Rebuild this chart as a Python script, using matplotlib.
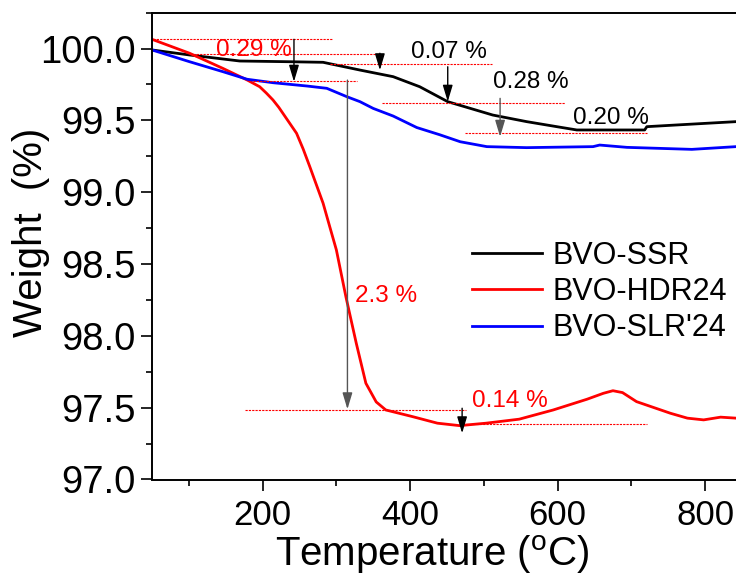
import numpy as np
import matplotlib
matplotlib.use('Agg')
import matplotlib.pyplot as plt
from matplotlib.ticker import MultipleLocator

plt.rc('font', family='Liberation Sans')
plt.rcParams['mathtext.fontset'] = 'custom'
plt.rcParams['mathtext.rm'] = 'Liberation Sans'

# TGA curves
temp_ssr = [50, 101, 169, 237, 282, 332, 377, 413, 451, 512, 558, 600, 626, 718, 721, 762, 842, 850]
wt_ssr = [99.99, 99.955, 99.913, 99.908, 99.904, 99.850, 99.804, 99.734, 99.630, 99.537, 99.491, 99.455,
          99.433, 99.433, 99.456, 99.468, 99.491, 99.492]

temp_hdr = [50, 101, 146, 179, 196, 205, 214, 222, 230, 238, 246, 255, 264, 273, 282, 291, 300, 313, 327,
            340, 354, 367, 403, 437, 467, 503, 548, 594, 640, 662, 675, 688, 707, 753, 776, 798, 821, 842, 850]
wt_hdr = [100.064, 99.967, 99.862, 99.781, 99.734, 99.69, 99.642, 99.59, 99.53, 99.47, 99.41, 99.30,
          99.177, 99.05, 98.923, 98.76, 98.598, 98.27, 97.948, 97.67, 97.54, 97.484, 97.438, 97.392,
          97.375, 97.392, 97.420, 97.484, 97.559, 97.60, 97.618, 97.605, 97.542, 97.461, 97.427, 97.415,
          97.434, 97.427, 97.43]

temp_slr = [50, 101, 146, 179, 214, 260, 287, 314, 332, 350, 377, 409, 440, 468, 504, 558, 648, 657, 694,
            782, 842, 850]
wt_slr = [99.99, 99.908, 99.839, 99.786, 99.762, 99.739, 99.723, 99.665, 99.630, 99.583, 99.530, 99.450,
          99.40, 99.351, 99.317, 99.310, 99.317, 99.328, 99.312, 99.298, 99.317, 99.315]

labels = ['BVO-SSR', 'BVO-HDR24', "BVO-SLR'24"]

# step guides: (x start, x end, level)
guide_lines = [(51, 295, 100.064), (106, 359, 99.962), (187, 328, 99.776), (291, 511, 99.890),
               (362, 610, 99.619), (474, 721, 99.41), (176, 476, 97.484), (476, 721, 97.387)]
# arrows: (x, from, to, colour)
arrows = [(242.5, 100.064, 99.769, 'k'), (359, 99.967, 99.849, 'k'), (451, 99.873, 99.630, 'k'),
          (522, 99.653, 99.386, '#555555'), (315, 99.78, 97.489, '#555555'), (470.5, 97.496, 97.322, 'k')]
# mass-loss labels
notes = [(137, 99.99, '0.29 %', 'red'), (401, 99.978, '0.07 %', 'k'), (512, 99.769, '0.28 %', 'k'),
         (621, 99.514, '0.20 %', 'k'), (325, 98.28, '2.3 %', 'red'), (484, 97.549, '0.14 %', 'red')]

fig = plt.figure(figsize=(7.36, 5.79), dpi=100)
ax = fig.add_axes([152/736, (579-479.5)/579, 590/736, 466.9/579])

ax.plot(temp_ssr, wt_ssr, color='black', lw=2, label=labels[0])
ax.plot(temp_hdr, wt_hdr, color='red', lw=2, label=labels[1])
ax.plot(temp_slr, wt_slr, color='blue', lw=2, label=labels[2])

for x0, x1, lev in guide_lines:
    ax.plot([x0, x1], [lev, lev], color='red', lw=0.8, ls=(0, (2, 1)))
for x, y0, y1, c in arrows:
    ax.annotate('', xy=(x, y1), xytext=(x, y0),
                arrowprops=dict(arrowstyle='-|>,head_length=0.5,head_width=0.15', color=c,
                                lw=1, mutation_scale=20, shrinkA=0, shrinkB=0))
for x, y, s, c in notes:
    ax.text(x, y, s, color=c, fontsize=17.5, ha='left', va='center')

ax.set_xlim(50, 850)
ax.set_ylim(97.0, 100.25)
ax.xaxis.set_major_locator(MultipleLocator(200))
ax.xaxis.set_minor_locator(MultipleLocator(100))
ax.yaxis.set_major_locator(MultipleLocator(0.5))
ax.yaxis.set_minor_locator(MultipleLocator(0.25))
ax.yaxis.set_major_formatter(matplotlib.ticker.FormatStrFormatter('%.1f'))
ax.tick_params(which='major', direction='out', length=8, width=1.2, pad=4)
ax.tick_params(which='minor', direction='out', length=4.5, width=1.2)
ax.tick_params(axis='x', labelsize=25, pad=6)
ax.tick_params(axis='y', labelsize=27.5, pad=4)
for side in ['left', 'bottom', 'top', 'right']:
    ax.spines[side].set_linewidth(1.4)

ax.set_xlabel(r'Temperature ($\mathregular{^o}$C)', fontsize=29)
ax.set_ylabel('Weight  (%)', fontsize=29)
ax.xaxis.set_label_coords((432-152)/590, -0.115)
ax.yaxis.set_label_coords((50-152)/590, 0.53)

ax.legend(loc='upper left', bbox_to_anchor=(471.7/736, 1-241/579), bbox_transform=fig.transFigure,
          frameon=False, fontsize=22, handlelength=2.3, handletextpad=0.35, labelspacing=0.2,
          borderpad=0, borderaxespad=0)

plt.savefig('out.png', dpi=100)
